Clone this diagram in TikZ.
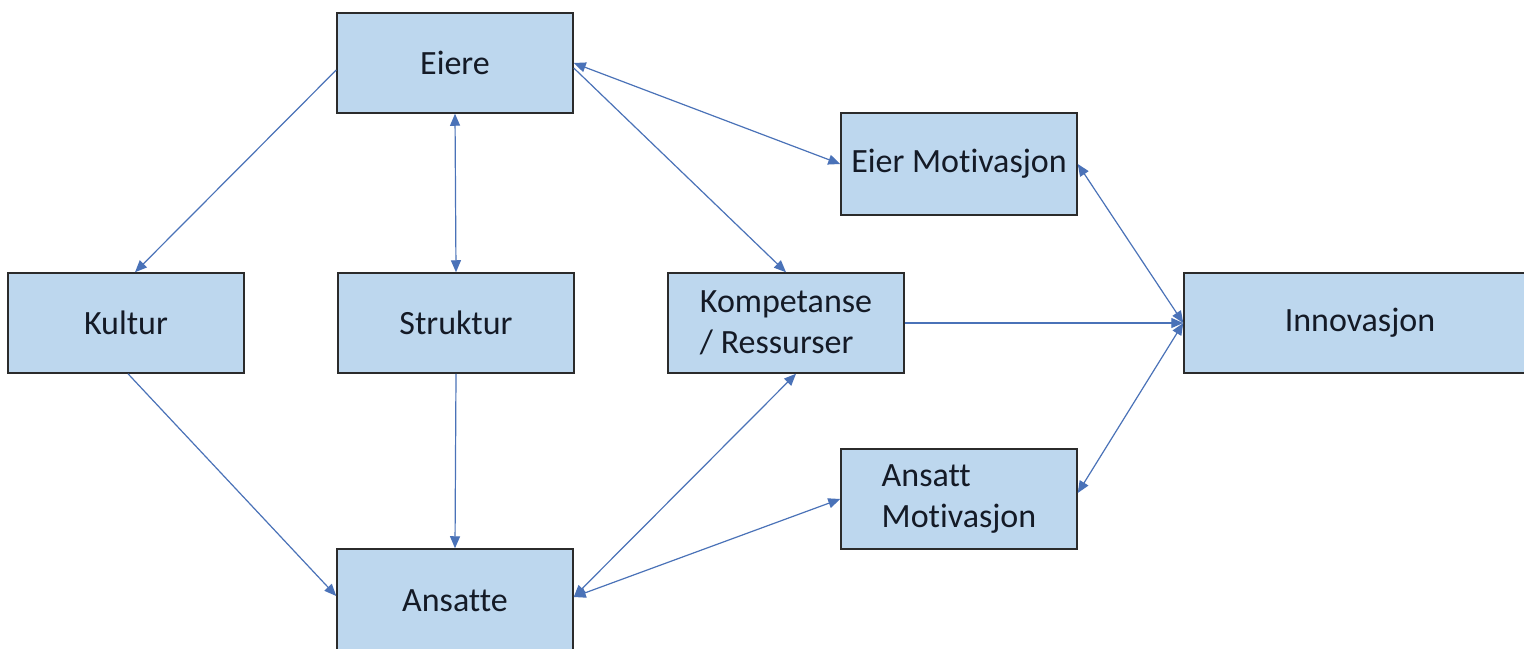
\documentclass[tikz,border=0pt]{standalone}
\usepackage{fontspec}
\setmainfont[Ligatures=NoCommon]{Carlito}
\usetikzlibrary{arrows.meta,calc}
\definecolor{boxfill}{HTML}{BDD7EE}
\definecolor{boxline}{HTML}{2B2B2B}
\definecolor{arrowc}{HTML}{4A72B8}
\definecolor{txt}{HTML}{141A26}
\begin{document}
\begin{tikzpicture}[x=0.5pt,y=-0.5pt,
  boxfont/.style={font=\fontsize{17pt}{20.4pt}\selectfont,text=txt},
  box/.style={draw=boxline,fill=boxfill,line width=0.75pt,minimum width=118pt,minimum height=50pt,inner sep=0pt,boxfont},
  conn/.style={draw=arrowc,line width=0.6pt},
  tip/.tip={Triangle[length=6pt,width=5pt]},
  fwd/.style={conn,-tip},
  both/.style={conn,tip-tip}]
\useasboundingbox (0,0) rectangle (1524,648);
\clip (0,0) rectangle (1524,648);
\fill[white] (0,0) rectangle (1524,648);
\node[box] (eiere) at (455,63) {Eiere};
\node[box] (kultur) at (126,323) {Kultur};
\node[box] (struktur) at (456,323) {Struktur};
\node[box,align=left] (komp) at (786,323) {Kompetanse\\/ Ressurser};
\node[box,minimum height=51pt] (eiermot) at (959,164) {Eier Motivasjon};
\node[box,minimum width=240pt,label={[boxfont,xshift=-32pt]center:Innovasjon}] (innov) at (1424,323) {};
\node[box,align=left] (ansmot) at (959,499) {Ansatt\\Motivasjon};
\node[box,minimum height=52pt] (ansatte) at (455,601) {Ansatte};
% connectors
\draw[fwd] ($(eiere.west)+(0,7)$) -- ($(kultur.north)+(9,0)$);
\draw[both] (eiere.south) -- (struktur.north);
\draw[both] (eiere.east) -- (eiermot.west);
\draw[fwd] ($(eiere.east)+(0,5)$) -- (komp.north);
\draw[fwd] ($(kultur.south)+(2,0)$) -- ($(ansatte.west)+(0,-5)$);
\draw[fwd] (struktur.south) -- (ansatte.north);
\draw[both] ($(ansatte.east)+(0,-4)$) -- ($(komp.south)+(10,0)$);
\draw[both] ($(ansatte.east)+(0,-4)$) -- (ansmot.west);
\draw[fwd] (komp.east) -- (innov.west);
\draw[both] (innov.west) -- (eiermot.east);
\draw[both] (innov.west) -- ($(ansmot.east)+(0,-6)$);
\end{tikzpicture}
\end{document}
